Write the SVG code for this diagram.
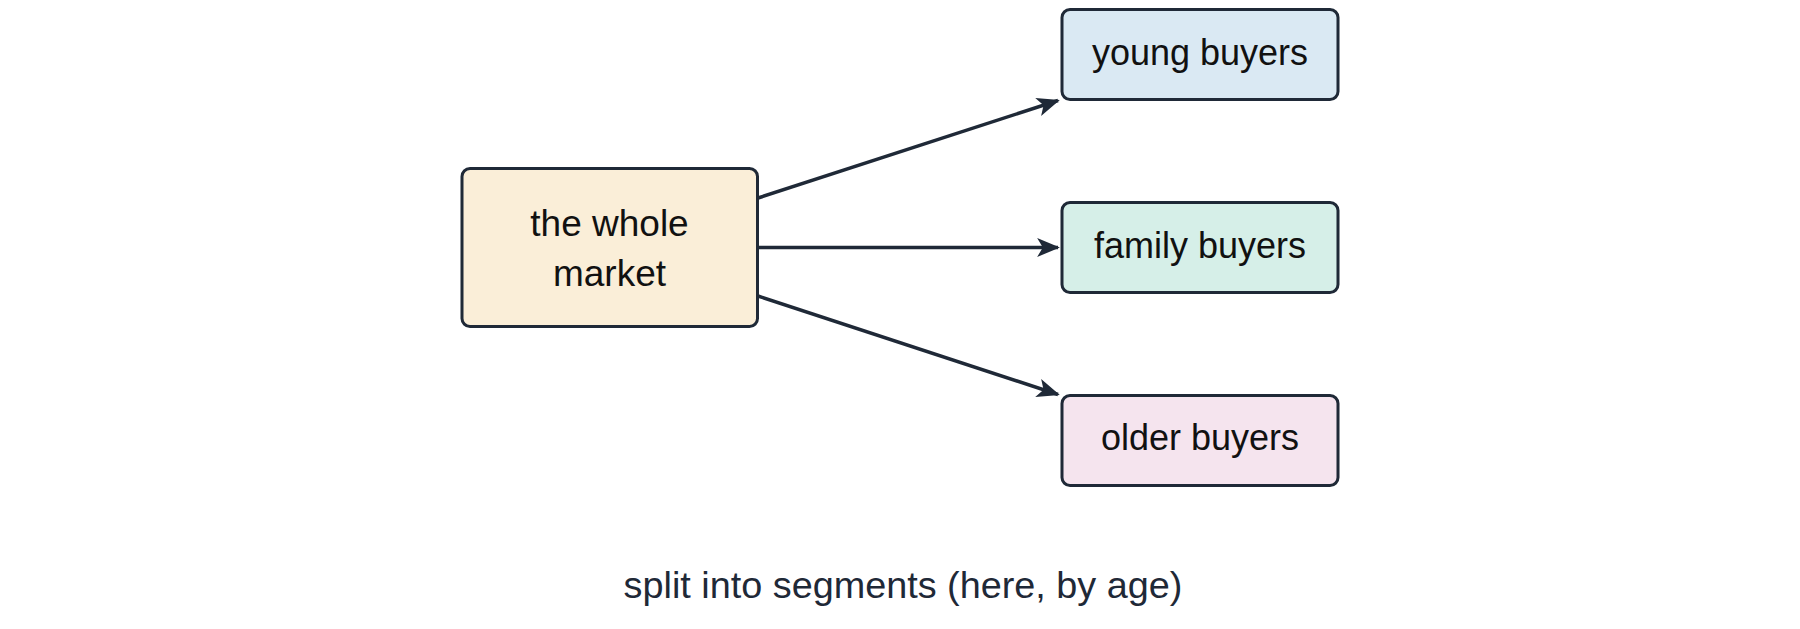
<svg xmlns="http://www.w3.org/2000/svg" width="1800" height="629" viewBox="0 0 1800 629">
<style>
.box{stroke:#1f2937;stroke-width:3}
.lbl{font-family:"Liberation Sans",Arial,sans-serif;font-size:36px;fill:#111111;text-anchor:middle}
.big{font-size:37px}
.cap{font-family:"Liberation Sans",Arial,sans-serif;font-size:37.8px;fill:#1f2937;text-anchor:middle}
.edge{stroke:#1f2937;stroke-width:3.5;fill:none}
</style>
<defs>
<marker id="arr" viewBox="0 0 12 10" refX="11" refY="5" markerWidth="6.5" markerHeight="5.5" markerUnits="strokeWidth" orient="auto">
<path d="M0,0 L12,5 L0,10 L3,5 z" fill="#1f2937"/>
</marker>
</defs>
<rect width="1800" height="629" fill="#ffffff"/>
<g id="connectors">
<line class="edge" x1="758" y1="198" x2="1058" y2="100.5" marker-end="url(#arr)"/>
<line class="edge" x1="758" y1="247.5" x2="1058" y2="247.5" marker-end="url(#arr)"/>
<line class="edge" x1="758" y1="296" x2="1058" y2="394.5" marker-end="url(#arr)"/>
</g>
<g id="whole-market">
<rect class="box" x="462" y="168.5" width="295.5" height="158" rx="8" fill="#faeed8"/>
<text class="lbl big" x="609.5" y="236">the whole</text>
<text class="lbl big" x="609.5" y="286">market</text>
</g>
<g id="young-buyers">
<rect class="box" x="1062" y="9.5" width="276" height="90" rx="8" fill="#dae9f3"/>
<text class="lbl" x="1200" y="65">young buyers</text>
</g>
<g id="family-buyers">
<rect class="box" x="1062" y="202.5" width="276" height="90" rx="8" fill="#d6efe8"/>
<text class="lbl" x="1200" y="258">family buyers</text>
</g>
<g id="older-buyers">
<rect class="box" x="1062" y="395.5" width="276" height="90" rx="8" fill="#f5e4ee"/>
<text class="lbl" x="1200" y="450">older buyers</text>
</g>
<text class="cap" x="903" y="598">split into segments (here, by age)</text>
</svg>
